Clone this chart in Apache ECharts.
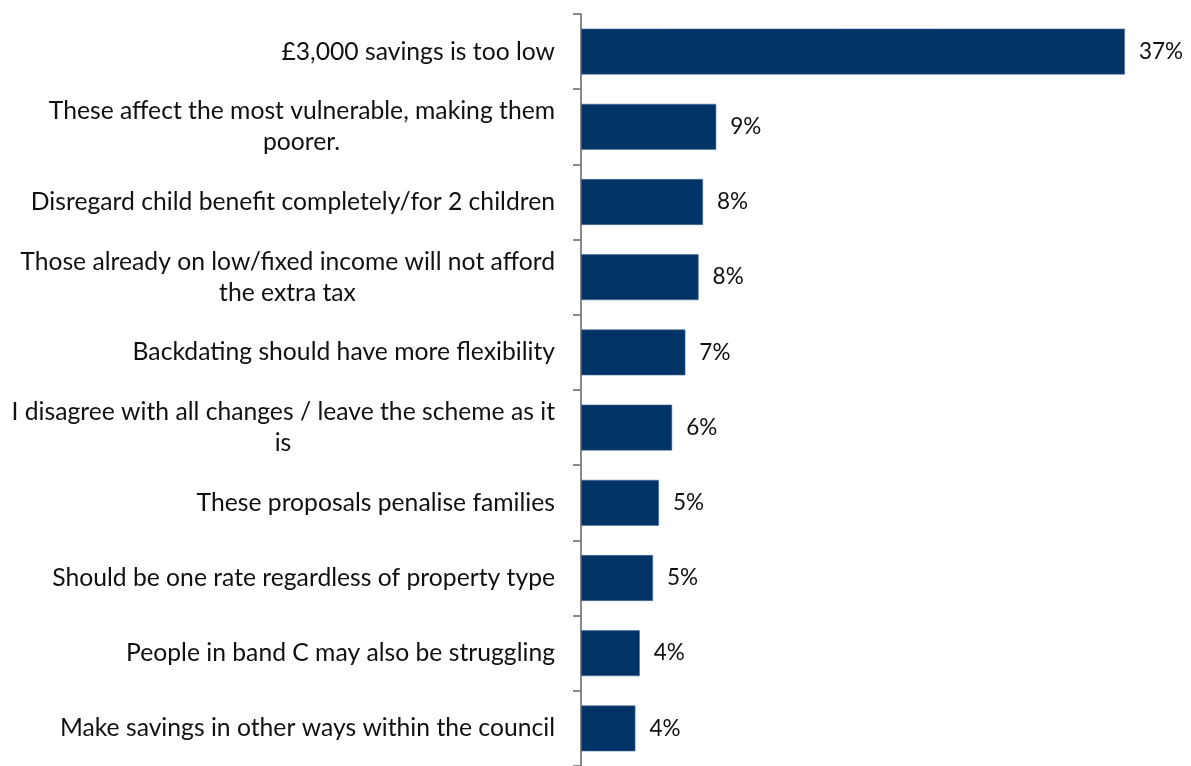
<!DOCTYPE html>
<html>
<head>
<meta charset="utf-8">
<script src="https://cdn.jsdelivr.net/npm/echarts@6/dist/echarts.min.js"></script>
<style>
  html, body { margin: 0; padding: 0; background: #ffffff; }
  #chart { width: 1191px; height: 766px; }
</style>
</head>
<body>
<div id="chart"></div>
<script>
// Reasons given, top to bottom
const categories = [
  "£3,000 savings is too low",
  "These affect the most vulnerable, making them\npoorer.",
  "Disregard child benefit completely/for 2 children",
  "Those already on low/fixed income will not afford\nthe extra tax",
  "Backdating should have more flexibility",
  "I disagree with all changes / leave the scheme as it\nis",
  "These proposals penalise families",
  "Should be one rate regardless of property type",
  "People in band C may also be struggling",
  "Make savings in other ways within the council"
];

// Share of respondents (%)
const shares = [37, 9.2, 8.3, 8.0, 7.1, 6.2, 5.3, 4.9, 4.0, 3.7];

const FONT = "Lato";
const LABEL_SIZE = 24.7;
const VALUE_SIZE = 22.5;
const TEXT_COLOR = "#111111";

// Measure text so wrapped labels can centre their second line under the first
const ctx = document.createElement("canvas").getContext("2d");
ctx.font = LABEL_SIZE + "px " + FONT;
const measure = s => ctx.measureText(s).width;

const rich = {
  a: { fontFamily: FONT, fontSize: LABEL_SIZE, color: TEXT_COLOR, lineHeight: 31 }
};
categories.forEach((c, i) => {
  const lines = c.split("\n");
  if (lines.length > 1) {
    rich["w" + i] = {
      fontFamily: FONT, fontSize: LABEL_SIZE, color: TEXT_COLOR, lineHeight: 31,
      width: Math.ceil(measure(lines[0])), align: "center"
    };
  }
});

const chart = echarts.init(document.getElementById("chart"), null, { renderer: "canvas" });

chart.setOption({
  animation: false,
  grid: { left: 581, top: 14, right: 22, height: 756, containLabel: false },
  xAxis: {
    type: "value",
    min: 0,
    max: 40,
    show: false
  },
  yAxis: {
    type: "category",
    inverse: true,
    data: categories,
    axisLine: { show: true, lineStyle: { color: "#898989", width: 2 } },
    axisTick: { show: true, length: 8, lineStyle: { color: "#898989", width: 2 } },
    axisLabel: {
      margin: 26,
      formatter: (value, idx) => {
        const lines = value.split("\n");
        if (lines.length > 1) {
          return "{a|" + lines[0] + "}\n{w" + idx + "|" + lines[1] + "}";
        }
        return "{a|" + value + "}";
      },
      rich: rich
    },
    splitLine: { show: false }
  },
  series: [{
    type: "bar",
    data: shares,
    barCategoryGap: "39%",
    itemStyle: { color: "#003366", borderColor: "#4f7199", borderWidth: 0.6 },
    label: {
      show: true,
      position: "right",
      distance: 14,
      fontFamily: FONT,
      fontSize: VALUE_SIZE,
      color: TEXT_COLOR,
      formatter: p => Math.round(p.value) + "%"
    }
  }]
});
</script>
</body>
</html>
